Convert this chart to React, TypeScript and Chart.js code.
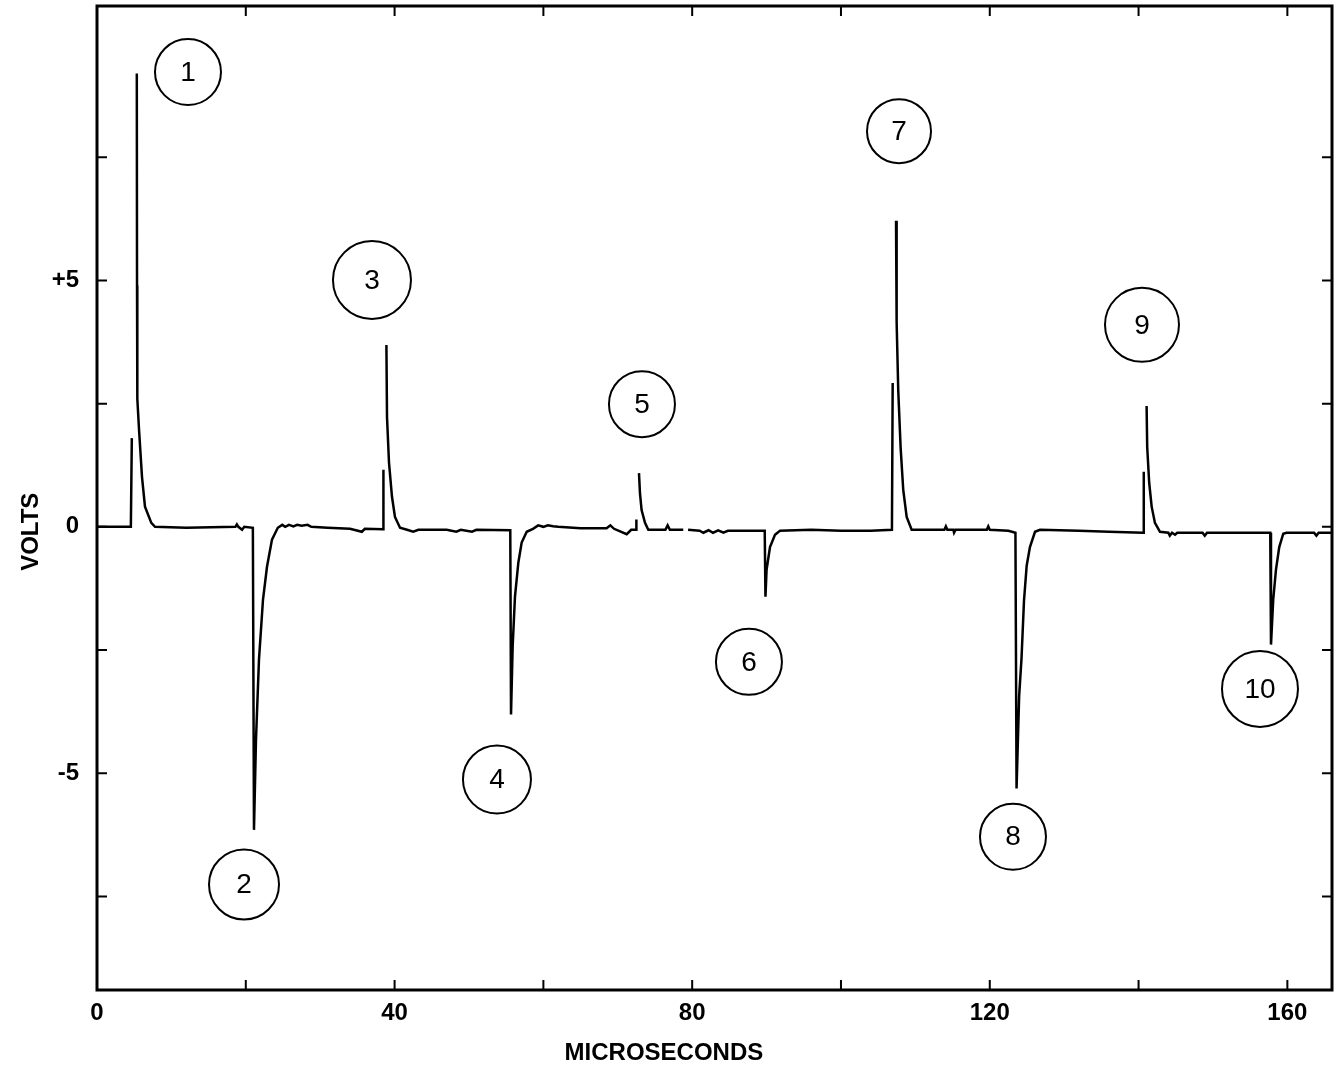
import React, { useEffect, useRef } from 'react';
import { Chart, registerables } from 'chart.js';

Chart.register(...registerables);

// ---- DATA ----
// Oscilloscope trace: time (microseconds) and voltage (volts); null = gap in trace
const traceTimes: number[] = [
  0, 4.55, 4.68, 4.9, 5.35, 5.38, 5.42, 5.65, 6.05, 6.45, 7.3, 7.8,
  12.0, 18.6, 18.8, 19.0, 19.5, 19.8, 20.95,
  21.1, 21.37, 21.77, 22.31, 22.85, 23.52, 24.3,
  24.9, 25.3, 25.8, 26.4, 26.9, 27.5, 28.3, 28.8, 31.0, 34.0, 35.6, 36.0,
  38.45, 38.5, 38.7, 38.9, 38.98, 39.25, 39.65, 40.05, 40.73, 41.67,
  42.5, 43.2, 47.0, 48.3, 48.9, 50.4, 51.0,
  55.55, 55.65, 55.87, 56.18, 56.63, 57.08, 57.76, 58.6,
  59.3, 60.0, 60.6, 61.3, 62.0, 65.0, 68.5, 69.0, 69.5, 71.2, 71.8,
  72.45, 72.5, 72.7, 72.85, 72.98, 73.2, 73.66, 74.1,
  76.4, 76.7, 77.0, 78.8, 79.1, 79.45, 81.0, 81.5, 82.2, 82.8, 83.5, 84.2, 84.8,
  89.75, 89.85, 90.0, 90.46, 91.13, 91.8,
  96.0, 100.0, 104.0,
  106.85, 106.95, 107.2, 107.4, 107.48, 107.7, 108.02, 108.37, 108.83, 109.5,
  113.9, 114.1, 114.3, 115.1, 115.2, 115.4, 119.6, 119.8, 120.0, 122.5,
  123.45, 123.6, 123.95, 124.27, 124.6, 124.96, 125.4, 126.08, 126.75,
  132.0, 136.0,
  140.6, 140.7, 140.9, 141.08, 141.16, 141.43, 141.76, 142.2, 142.88,
  144.0, 144.2, 144.5, 144.9, 145.2, 148.6, 148.9, 149.2, 152.0,
  157.7, 157.8, 158.1, 158.47, 158.91, 159.45, 159.9,
  163.6, 163.9, 164.2, 165.9,
];
const traceVolts: (number | null)[] = [
  0, 0, 1.8, null, 9.2, 4.9, 2.6, 1.97, 1.01, 0.41, 0.08, 0,
  -0.02, 0, 0.05, 0, -0.06, 0, -0.02,
  -6.15, -4.32, -2.7, -1.48, -0.81, -0.26, -0.02,
  0.04, 0.0, 0.04, 0.01, 0.04, 0.02, 0.04, 0.0, -0.02, -0.04, -0.1, -0.04,
  -0.05, 1.16, null, 3.69, 2.23, 1.3, 0.61, 0.2, -0.02, -0.06,
  -0.1, -0.06, -0.06, -0.1, -0.06, -0.1, -0.06,
  -0.07, -3.81, -2.43, -1.42, -0.73, -0.32, -0.1, -0.04,
  0.03, 0.0, 0.03, 0.01, 0.0, -0.03, -0.03, 0.03, -0.04, -0.15, -0.06,
  -0.06, 0.15, null, 1.09, 0.69, 0.34, 0.08, -0.06,
  -0.06, 0.03, -0.06, -0.06, null, -0.06, -0.08, -0.12, -0.07, -0.12, -0.07, -0.12, -0.08,
  -0.08, -1.42, -0.87, -0.41, -0.16, -0.08,
  -0.06, -0.08, -0.08,
  -0.06, 2.92, null, 6.21, 4.16, 2.76, 1.6, 0.75, 0.2, -0.06,
  -0.06, 0.01, -0.06, -0.06, -0.12, -0.06, -0.06, 0.01, -0.06, -0.08,
  -0.12, -5.31, -3.43, -2.66, -1.5, -0.79, -0.41, -0.1, -0.06,
  -0.08, -0.1,
  -0.12, 1.12, null, 2.45, 1.62, 0.89, 0.41, 0.08, -0.1,
  -0.12, -0.18, -0.12, -0.16, -0.12, -0.12, -0.18, -0.12, -0.12,
  -0.12, -2.39, -1.48, -0.87, -0.41, -0.14, -0.12,
  -0.12, -0.18, -0.12, -0.12,
];

// Numbered pulse markers (label, time, volts)
const markerLabels = ['1', '2', '3', '4', '5', '6', '7', '8', '9', '10'];
const markerTimes = [12.23, 19.76, 36.96, 53.76, 73.25, 87.63, 107.8, 123.12, 140.46, 156.32];
const markerVolts = [9.23, -7.26, 5.01, -5.13, 2.49, -2.74, 8.03, -6.29, 4.1, -3.29];

// Axis ticks and labels
const xTickValues = [0, 20, 40, 60, 80, 100, 120, 140, 160];
const xTickLabels = ['0', '', '40', '', '80', '', '120', '', '160'];
const yTickValues = [-7.5, -5, -2.5, 0, 2.5, 5, 7.5];
const yTickLabels = ['', '-5', '', '0', '', '+5', ''];
const xTitle = 'MICROSECONDS';
const yTitle = 'VOLTS';

// ---- STYLE ----
const X_MIN = 0;
const X_MAX = 166;
const Y_MIN = -9.4;
const Y_MAX = 10.57;
const markerRadiusPx = [33, 35, 39, 34, 33, 33, 32, 33, 37, 38];
const xTitleAtValue = 76.2;
const yTitleAtValue = -0.1;
const BOLD_FONT = '"Liberation Sans", Arial, sans-serif';

const decorPlugin = {
  id: 'decor',
  afterDraw(chart: any) {
    const { ctx, chartArea, scales } = chart;
    const xs = scales.x;
    const ys = scales.y;
    const { left, right, top, bottom } = chartArea;
    ctx.save();
    ctx.strokeStyle = '#000';
    ctx.lineWidth = 3;
    ctx.strokeRect(left, top, right - left, bottom - top);
    ctx.lineWidth = 2;
    const tl = 10;
    ctx.beginPath();
    xTickValues.forEach((v) => {
      const px = xs.getPixelForValue(v);
      ctx.moveTo(px, bottom);
      ctx.lineTo(px, bottom - tl);
      ctx.moveTo(px, top);
      ctx.lineTo(px, top + tl);
    });
    yTickValues.forEach((v) => {
      const py = ys.getPixelForValue(v);
      ctx.moveTo(left, py);
      ctx.lineTo(left + tl, py);
      ctx.moveTo(right, py);
      ctx.lineTo(right - tl, py);
    });
    ctx.stroke();

    // marker numbers
    const meta = chart.getDatasetMeta(1);
    ctx.fillStyle = '#000';
    ctx.font = '28px "Liberation Sans", Arial, sans-serif';
    ctx.textAlign = 'center';
    ctx.textBaseline = 'middle';
    meta.data.forEach((el: any, i: number) => {
      ctx.fillText(markerLabels[i], el.x, el.y + 1);
    });

    // axis titles
    ctx.font = 'bold 24px ' + BOLD_FONT;
    ctx.fillText(xTitle, xs.getPixelForValue(xTitleAtValue), 1053);
    ctx.save();
    ctx.translate(31, ys.getPixelForValue(yTitleAtValue));
    ctx.rotate(-Math.PI / 2);
    ctx.fillText(yTitle, 0, 0);
    ctx.restore();
    ctx.restore();
  },
};

export default function App() {
  const canvasRef = useRef<HTMLCanvasElement | null>(null);

  useEffect(() => {
    document.body.style.margin = '0';
    const canvas = canvasRef.current;
    if (!canvas) return;
    const traceData = traceTimes.map((t, i) => ({ x: t, y: traceVolts[i] }));
    const markerData = markerTimes.map((t, i) => ({ x: t, y: markerVolts[i] }));

    const chart = new Chart(canvas, {
      type: 'line',
      data: {
        datasets: [
          {
            type: 'line',
            data: traceData as any,
            borderColor: '#000',
            borderWidth: 2.5,
            pointRadius: 0,
            spanGaps: false,
            tension: 0,
            fill: false,
          },
          {
            type: 'scatter',
            data: markerData as any,
            pointRadius: markerRadiusPx,
            pointStyle: 'circle',
            borderColor: '#000',
            borderWidth: 2,
            pointBorderWidth: 2,
            backgroundColor: 'rgba(255,255,255,0)',
            pointBackgroundColor: 'rgba(255,255,255,0)',
            clip: false,
          } as any,
        ],
      },
      options: {
        animation: false,
        responsive: false,
        devicePixelRatio: 1,
        events: [],
        layout: { autoPadding: false, padding: { top: 6, right: 6, left: 0, bottom: 0 } },
        plugins: {
          legend: { display: false },
          tooltip: { enabled: false },
          title: { display: false },
        },
        scales: {
          x: {
            type: 'linear',
            min: X_MIN,
            max: X_MAX,
            grid: { display: false, drawTicks: false },
            border: { display: false },
            afterBuildTicks: (scale: any) => {
              scale.ticks = xTickValues.map((v) => ({ value: v }));
            },
            afterFit: (scale: any) => {
              scale.height = 82;
              scale.paddingLeft = 0;
              scale.paddingRight = 0;
            },
            ticks: {
              autoSkip: false,
              maxRotation: 0,
              padding: 9,
              color: '#000',
              font: { family: BOLD_FONT, size: 24, weight: 'bold' },
              callback: (_v: any, i: number) => xTickLabels[i],
            },
          },
          y: {
            type: 'linear',
            min: Y_MIN,
            max: Y_MAX,
            grid: { display: false, drawTicks: false },
            border: { display: false },
            afterBuildTicks: (scale: any) => {
              scale.ticks = yTickValues.map((v) => ({ value: v }));
            },
            afterFit: (scale: any) => {
              scale.width = 97;
              scale.paddingTop = 0;
              scale.paddingBottom = 0;
            },
            ticks: {
              autoSkip: false,
              padding: 18,
              color: '#000',
              font: { family: BOLD_FONT, size: 24, weight: 'bold' },
              callback: (_v: any, i: number) => yTickLabels[i],
            },
          },
        },
      } as any,
      plugins: [decorPlugin],
    });
    return () => chart.destroy();
  }, []);

  return (
    <div style={{ width: 1338, height: 1072, background: '#fff' }}>
      <canvas ref={canvasRef} width={1338} height={1072} style={{ display: 'block' }} />
    </div>
  );
}
